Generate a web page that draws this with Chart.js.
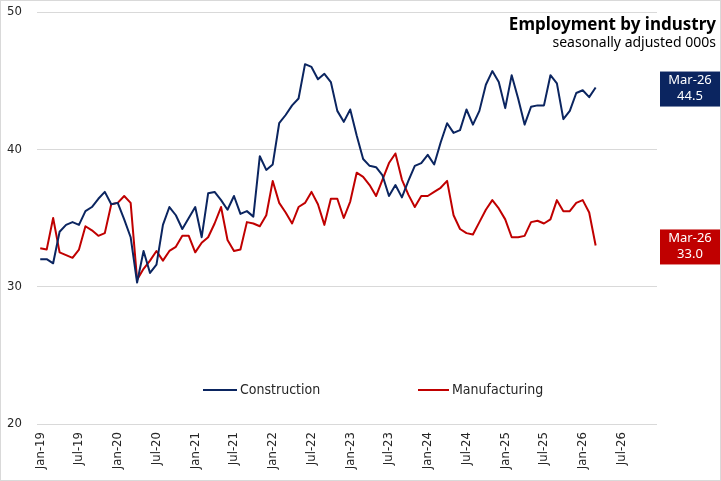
<!DOCTYPE html>
<html>
<head>
<meta charset="utf-8">
<script src="https://cdn.jsdelivr.net/npm/chart.js@4.4.1/dist/chart.umd.min.js"></script>
<style>
  html, body { margin: 0; padding: 0; background: #fff; }
  #wrap { width: 721px; height: 481px; position: relative; }
</style>
</head>
<body>
<div id="wrap"><canvas id="employment"></canvas></div>
<script>

//
// Data (seasonally adjusted, 000s) Jan-19 .. Mar-26
//
var monthNames = ['Jan', 'Feb', 'Mar', 'Apr', 'May', 'Jun', 'Jul', 'Aug', 'Sep', 'Oct', 'Nov', 'Dec'];
var years = ['19', '20', '21', '22', '23', '24', '25', '26'];

var tickLabels = ['Jan-19', 'Jul-19', 'Jan-20', 'Jul-20', 'Jan-21', 'Jul-21', 'Jan-22', 'Jul-22',
                  'Jan-23', 'Jul-23', 'Jan-24', 'Jul-24', 'Jan-25', 'Jul-25', 'Jan-26', 'Jul-26'];

var construction = [
  32.0, 32.0, 31.7, 34.0, 34.5, 34.7, 34.5, 35.5, 35.8, 36.4, 36.9, 36.0,
  36.1, 34.9, 33.6, 30.3, 32.6, 31.0, 31.6, 34.5, 35.8, 35.2, 34.2, 35.0,
  35.8, 33.6, 36.8, 36.9, 36.3, 35.6, 36.6, 35.3, 35.5, 35.1, 39.5, 38.5,
  38.9, 41.9, 42.5, 43.2, 43.7, 46.2, 46.0, 45.1, 45.5, 44.9, 42.8, 42.0,
  42.9, 41.0, 39.3, 38.8, 38.7, 38.1, 36.6, 37.4, 36.5, 37.7, 38.8, 39.0,
  39.6, 38.9, 40.5, 41.9, 41.2, 41.4, 42.9, 41.8, 42.8, 44.7, 45.7, 44.9,
  43.0, 45.4, 43.7, 41.8, 43.1, 43.2, 43.2, 45.4, 44.8, 42.2, 42.8, 44.1,
  44.3, 43.8, 44.5
];

var manufacturing = [
  32.8, 32.7, 35.0, 32.5, 32.3, 32.1, 32.7, 34.4, 34.1, 33.7, 33.9, 36.0,
  36.1, 36.6, 36.1, 30.5, 31.3, 31.9, 32.6, 31.9, 32.6, 32.9, 33.7, 33.7,
  32.5, 33.2, 33.6, 34.6, 35.8, 33.4, 32.6, 32.7, 34.7, 34.6, 34.4, 35.2,
  37.7, 36.1, 35.4, 34.6, 35.8, 36.1, 36.9, 36.0, 34.5, 36.4, 36.4, 35.0,
  36.2, 38.3, 38.0, 37.4, 36.6, 37.8, 39.0, 39.7, 37.8, 36.7, 35.8, 36.6,
  36.6, 36.9, 37.2, 37.7, 35.2, 34.2, 33.9, 33.8, 34.7, 35.6, 36.3, 35.7,
  34.9, 33.6, 33.6, 33.7, 34.7, 34.8, 34.6, 34.9, 36.3, 35.5, 35.5, 36.1,
  36.3, 35.4, 33.0
];

var latestMonth = 'Mar-26';
var titleText = 'Employment by industry';
var subtitleText = 'seasonally adjusted 000s';

// month axis runs through to the end of 2026
var months = [];
years.forEach(function (yy) {
  monthNames.forEach(function (m) { months.push(m + '-' + yy); });
});

var NAVY = '#0b2560';
var RED = '#c00000';
var NARROW = '"Liberation Sans Narrow", "DejaVu Sans Condensed", sans-serif';

Chart.defaults.font.family = NARROW;
Chart.defaults.font.size = 13;
Chart.defaults.color = '#262626';

//
// Title, end-of-series boxes, legend, frame
//
var extras = {
  id: 'extras',
  afterDraw: function (chart) {
    var c = chart.ctx;
    var area = chart.chartArea;
    var y = chart.scales.y;
    c.save();

    // frame
    c.strokeStyle = '#d9d9d9';
    c.lineWidth = 1;
    c.strokeRect(0.5, 0.5, chart.width - 1, chart.height - 1);

    // title
    c.fillStyle = '#000';
    c.textAlign = 'right';
    c.textBaseline = 'alphabetic';
    c.font = 'bold 17px "Noto Sans"';
    c.fillText(titleText, 716, 30);
    c.font = '14px "Noto Sans"';
    c.fillText(subtitleText, 716, 47);

    // latest value boxes
    chart.data.datasets.forEach(function (ds) {
      var last = ds.data[ds.data.length - 1];
      var py = y.getPixelForValue(last) + 1;
      c.fillStyle = ds.borderColor;
      c.fillRect(area.right + 3, py - 17, chart.width - area.right - 4, 35);
      c.fillStyle = '#fff';
      c.textAlign = 'center';
      c.textBaseline = 'middle';
      c.font = '13px "Noto Sans"';
      var cx = (area.right + 3 + chart.width - 1) / 2;
      c.fillText(latestMonth, cx, py - 8);
      c.fillText(last.toFixed(1), cx, py + 8);
    });

    // legend
    var items = [[203, 240], [418, 452]];
    c.font = '14px ' + NARROW;
    c.textAlign = 'left';
    c.textBaseline = 'middle';
    chart.data.datasets.forEach(function (ds, i) {
      c.strokeStyle = ds.borderColor;
      c.lineWidth = 2;
      c.beginPath();
      c.moveTo(items[i][0], 390);
      c.lineTo(items[i][1] - 3, 390);
      c.stroke();
      c.fillStyle = '#262626';
      c.fillText(ds.label, items[i][1], 390);
    });

    c.restore();
  }
};

//
// Chart
//
var ctx = document.getElementById('employment').getContext('2d');
var chart = new Chart(ctx, {
  type: 'line',
  data: {
    labels: months,
    datasets: [{
      label: 'Construction',
      data: construction,
      borderColor: NAVY,
      backgroundColor: NAVY
    }, {
      label: 'Manufacturing',
      data: manufacturing,
      borderColor: RED,
      backgroundColor: RED
    }]
  },
  options: {
    responsive: true,
    maintainAspectRatio: false,
    animation: false,
    layout: { padding: { top: 12, right: 64, left: 0, bottom: 0 } },
    elements: {
      point: { radius: 0 },
      line: { borderWidth: 2, tension: 0, borderJoinStyle: 'round' }
    },
    plugins: {
      legend: { display: false },
      tooltip: { enabled: false }
    },
    scales: {
      x: {
        offset: true,
        grid: { display: false, drawTicks: false },
        border: { display: false },
        ticks: {
          autoSkip: false,
          minRotation: 90,
          maxRotation: 90,
          padding: 8,
          callback: function (value) {
            var l = this.getLabelForValue(value);
            return tickLabels.indexOf(l) >= 0 ? l : '';
          }
        },
        afterFit: function (s) { s.height = 57; }
      },
      y: {
        min: 20,
        max: 50,
        ticks: { stepSize: 10, padding: 15 },
        grid: { color: '#d9d9d9', drawTicks: false },
        border: { display: false },
        afterFit: function (s) {
          s.width = 37;
          s.paddingTop = 0;
          s.paddingBottom = 0;
        }
      }
    }
  },
  plugins: [extras]
});

</script>
</body>
</html>
